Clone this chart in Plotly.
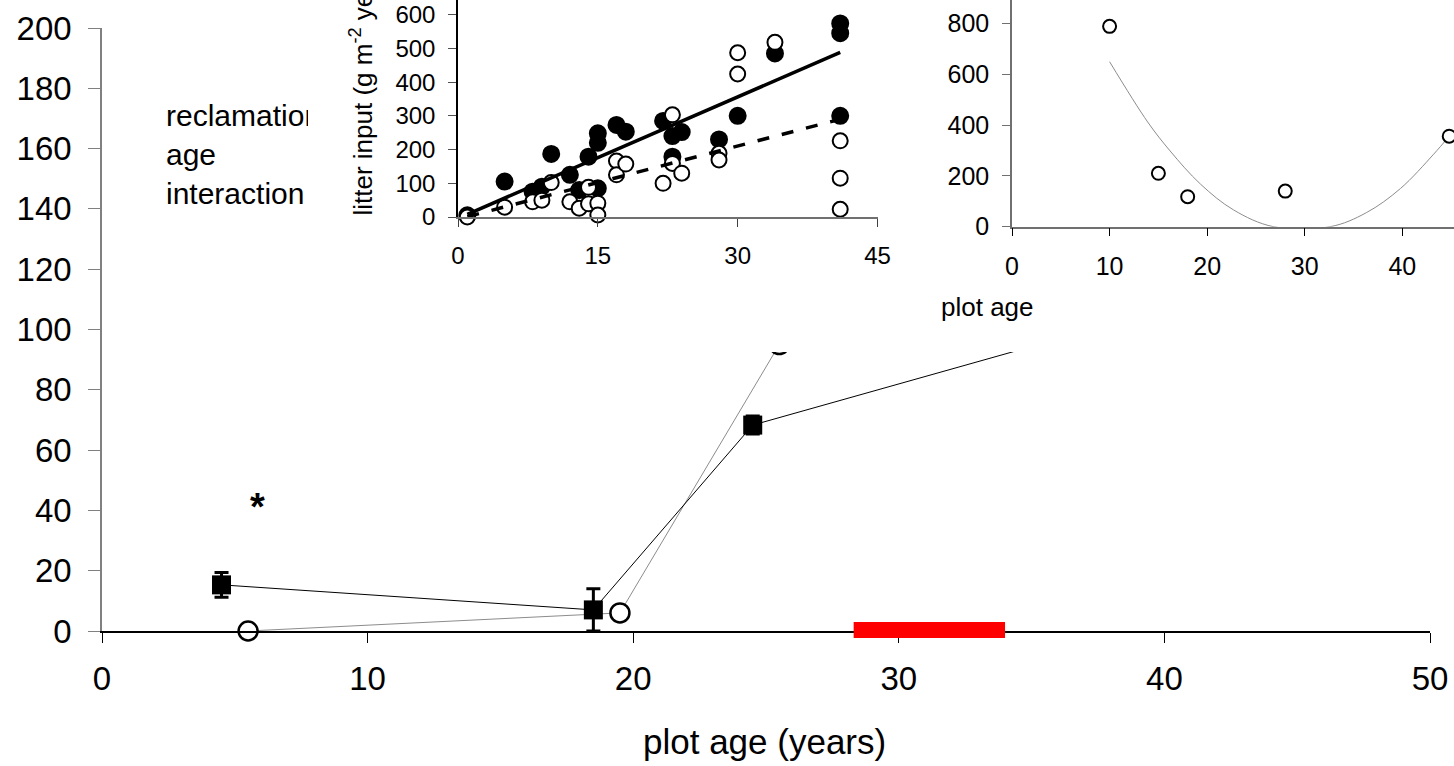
import plotly.graph_objects as go

FONT = "Liberation Sans, Arial, sans-serif"
W, H = 1454, 766

# ---------------- main chart data ----------------
FILLED_AGE = [4.5, 18.5, 24.5, 40.5]
FILLED_VAL = [15.3, 7.0, 68.3, 108.0]
FILLED_ERR = [4.1, 7.0, 3.0, 5.0]
OPEN_AGE = [5.5, 19.5, 25.5, 41.5]
OPEN_VAL = [0.0, 6.0, 95.0, 120.0]
RED_BAR_AGE = [28.3, 34.0]
MAIN_XTICKS = [0, 10, 20, 30, 40, 50]
MAIN_YTICKS = [0, 20, 40, 60, 80, 100, 120, 140, 160, 180, 200]
STAR_POS = [5.84, 41.0]
LABEL_POS = [2.41, 157.2]
LABEL_TEXT = "reclamation<br>age<br>interaction"

# ---------------- inset 1 (litter input) ----------------
LIT_FILLED_X = [1, 5, 8, 9, 10, 12, 13, 14, 15, 15, 15, 17, 18, 22, 23, 23, 24, 28, 30, 34, 41, 41, 41]
LIT_FILLED_Y = [5, 105, 75, 90, 187, 125, 80, 179, 248, 220, 85, 273, 253, 285, 240, 179, 252, 230, 300, 485, 574, 545, 300]
LIT_OPEN_X = [1, 5, 8, 9, 10, 12, 13, 14, 14, 15, 15, 17, 17, 18, 22, 23, 23, 24, 28, 28, 30, 30, 34, 41, 41, 41]
LIT_OPEN_Y = [0, 29, 45, 50, 102, 45, 26, 88, 39, 41, 6, 166, 125, 157, 100, 303, 159, 130, 189, 169, 487, 424, 518, 226, 115, 23]
LIT_FIT_X = [1, 41]
LIT_FILLED_FIT = [8, 488]
LIT_OPEN_FIT = [1, 290]
LIT_XTICKS = [0, 15, 30, 45]
LIT_YTICKS = [0, 100, 200, 300, 400, 500, 600]

# ---------------- inset 2 (plot age) ----------------
PA_X = [10, 15, 18, 28, 44.8]
PA_Y = [788, 210, 118, 140, 356]
PA_CURVE_X = [10, 13.9, 16.2, 19.3, 22.7, 26.8, 32.6, 36.3, 39.8, 43.2, 44.8]
PA_CURVE_Y = [649, 412, 298, 168, 66, 0, 0, 55, 150, 285, 356]
PA_XTICKS = [0, 10, 20, 30, 40]
PA_YTICKS = [0, 200, 400, 600, 800]


def px_x(p):
    return p / W


def px_y(p):
    return 1 - p / H


fig = go.Figure()

# main chart
fig.add_trace(go.Scatter(x=[LABEL_POS[0]], y=[LABEL_POS[1]], mode="text", text=[LABEL_TEXT],
                         textposition="middle right", textfont=dict(size=30, color="black", family=FONT),
                         xaxis="x", yaxis="y", showlegend=False, hoverinfo="skip"))
fig.add_trace(go.Scatter(x=OPEN_AGE, y=OPEN_VAL, mode="lines+markers",
                         line=dict(color="#8c8c8c", width=1),
                         marker=dict(symbol="circle", size=19, color="white", line=dict(color="black", width=2.5)),
                         cliponaxis=False, xaxis="x", yaxis="y", showlegend=False))
fig.add_trace(go.Scatter(x=FILLED_AGE, y=FILLED_VAL, mode="lines+markers",
                         line=dict(color="black", width=1),
                         marker=dict(symbol="square", size=19, color="black"),
                         error_y=dict(type="data", array=FILLED_ERR, color="black", thickness=3, width=7),
                         cliponaxis=False, xaxis="x", yaxis="y", showlegend=False))

# mask subplot (white box hiding the upper part of the main chart)
fig.add_trace(go.Scatter(x=[], y=[], xaxis="x2", yaxis="y2", showlegend=False))

# inset 1
fig.add_trace(go.Scatter(x=LIT_FILLED_X, y=LIT_FILLED_Y, mode="markers",
                         marker=dict(symbol="circle", size=16, color="black", line=dict(color="black", width=2)),
                         cliponaxis=False, xaxis="x3", yaxis="y3", showlegend=False))
fig.add_trace(go.Scatter(x=LIT_OPEN_X, y=LIT_OPEN_Y, mode="markers",
                         marker=dict(symbol="circle", size=15, color="white", line=dict(color="black", width=2)),
                         cliponaxis=False, xaxis="x3", yaxis="y3", showlegend=False))
fig.add_trace(go.Scatter(x=LIT_FIT_X, y=LIT_OPEN_FIT, mode="lines",
                         line=dict(color="black", width=3.5, dash="12px,13px"),
                         xaxis="x3", yaxis="y3", showlegend=False))
fig.add_trace(go.Scatter(x=LIT_FIT_X, y=LIT_FILLED_FIT, mode="lines",
                         line=dict(color="black", width=3.5),
                         xaxis="x3", yaxis="y3", showlegend=False))

# inset 2
fig.add_trace(go.Scatter(x=PA_CURVE_X, y=PA_CURVE_Y, mode="lines",
                         line=dict(color="#8c8c8c", width=1, shape="spline", smoothing=1),
                         xaxis="x4", yaxis="y4", showlegend=False))
fig.add_trace(go.Scatter(x=PA_X, y=PA_Y, mode="markers",
                         marker=dict(symbol="circle", size=13, color="white", line=dict(color="black", width=2)),
                         cliponaxis=False, xaxis="x4", yaxis="y4", showlegend=False))

common = dict(showgrid=False, zeroline=False, showline=True, ticks="outside", tickwidth=1,
              automargin=False)

fig.update_layout(
    template="none",
    width=W, height=H,
    margin=dict(l=0, r=0, t=0, b=0, pad=0),
    paper_bgcolor="white", plot_bgcolor="white",
    font=dict(family=FONT, color="black"),
    showlegend=False,
    xaxis=dict(domain=[px_x(102), px_x(1430)], range=[0, 50], anchor="y", tickvals=MAIN_XTICKS,
               linecolor="black", linewidth=1.5, ticklen=10, tickcolor="black",
               tickfont=dict(size=33), ticklabelstandoff=8, **common),
    yaxis=dict(domain=[px_y(631), px_y(28)], range=[0, 200], anchor="x", tickvals=MAIN_YTICKS,
               linecolor="#808080", linewidth=1.5, ticklen=12, tickcolor="#808080",
               tickfont=dict(size=33), ticklabelstandoff=10, **common),
    xaxis2=dict(domain=[px_x(308), 1], range=[0, 1], anchor="y2", visible=False, automargin=False),
    yaxis2=dict(domain=[px_y(352), 1], range=[0, 1], anchor="x2", visible=False, automargin=False),
    xaxis3=dict(domain=[px_x(458), px_x(877.5)], range=[0, 45], anchor="y3", tickvals=LIT_XTICKS,
                linecolor="#707070", linewidth=1.5, ticklen=8, tickcolor="#404040",
                tickfont=dict(size=24), ticklabelstandoff=8, **common),
    yaxis3=dict(domain=[px_y(217), 1], range=[0, 643.5], anchor="x3", tickvals=LIT_YTICKS,
                linecolor="black", linewidth=1.5, ticklen=8, tickcolor="#505050",
                tickfont=dict(size=24), ticklabelstandoff=8, **common),
    xaxis4=dict(domain=[px_x(1012), 1], range=[0, 45.29], anchor="y4", tickvals=PA_XTICKS,
                linecolor="#707070", linewidth=1.5, ticklen=8, tickcolor="black",
                tickfont=dict(size=25), ticklabelstandoff=9, **common),
    yaxis4=dict(domain=[px_y(226.7), 1], range=[0, 891.6], anchor="x4", tickvals=PA_YTICKS,
                linecolor="#707070", linewidth=1.5, ticklen=8, tickcolor="#707070",
                tickfont=dict(size=25), ticklabelstandoff=8, **common),
    shapes=[
        dict(type="rect", xref="x2", yref="y2", x0=0, x1=1, y0=0, y1=1,
             fillcolor="white", line=dict(width=0), layer="below"),
        dict(type="rect", xref="x", yref="paper", x0=RED_BAR_AGE[0], x1=RED_BAR_AGE[1],
             y0=px_y(638), y1=px_y(622), fillcolor="#ff0000", line=dict(width=0), layer="above"),
    ],
    annotations=[
        dict(text="plot age (years)", xref="paper", yref="paper", x=px_x(764), y=px_y(741),
             xanchor="center", yanchor="middle", showarrow=False, font=dict(size=35)),
        dict(text="plot age", xref="paper", yref="paper", x=px_x(988), y=px_y(307),
             xanchor="center", yanchor="middle", showarrow=False, font=dict(size=26)),
        dict(text="litter input (g m<sup>-2</sup> year<sup>-1</sup>)", xref="paper", yref="paper",
             x=px_x(362), y=px_y(218), xanchor="center", yanchor="bottom", textangle=-90,
             showarrow=False, font=dict(size=26)),
        dict(text="<b>*</b>", xref="x", yref="y", x=STAR_POS[0], y=STAR_POS[1],
             xanchor="center", yanchor="middle", showarrow=False, font=dict(size=38)),
    ],
)

fig.write_html("out.html")
